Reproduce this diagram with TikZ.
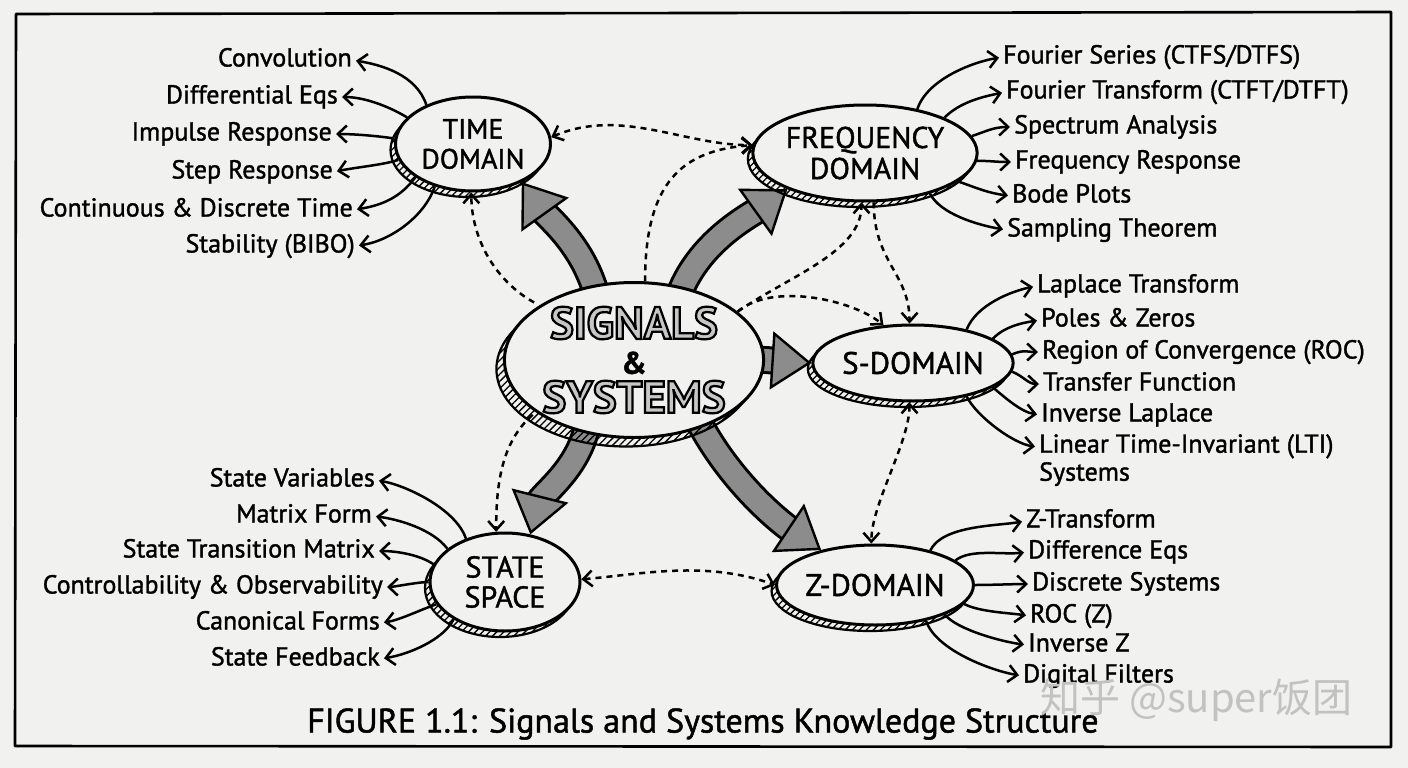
\documentclass[tikz,border=0pt]{standalone}
\usepackage{fontspec}
\setmainfont{PT Sans}[FakeBold=1.4]
\newfontfamily\cjk{Noto Sans CJK SC}
\newfontfamily\sigfont[FakeBold=5]{PT Sans Bold}
\usetikzlibrary{shapes.geometric,arrows.meta,patterns.meta}
\definecolor{paper}{RGB}{241,241,240}
\definecolor{hatch}{RGB}{140,140,140}
\pgfdeclarelayer{bg}
\pgfsetlayers{bg,main}
\newcommand\olt[1]{{\sigfont\color{black!22}\special{pdf:literal direct 0 G}#1}}
\tikzset{
  shadowed/.style={preaction={draw=black, line width=2.2pt, pattern={Lines[angle=45,distance=5pt,line width=1.3pt]}, transform canvas={shift={(#1)}}}},
  bubble/.style={ellipse, draw=black, line width=3pt, fill=paper, inner sep=0pt, align=center},
  item/.style={font=\fontsize{26}{29}\selectfont, inner sep=0pt, text height=18pt, text depth=5pt},
  leaf/.style={line width=2.5pt, -{Straight Barb[length=9pt,width=17pt]}, shorten >=4pt},
  dlink/.style={line width=2.5pt, dash pattern=on 6pt off 5pt, -{Straight Barb[length=9pt,width=16pt]}},
  dlinkb/.style={line width=2.5pt, dash pattern=on 6pt off 5pt, {Straight Barb[length=9pt,width=16pt]}-{Straight Barb[length=9pt,width=16pt]}},
  bigarr/.style={line width=2.4pt, draw=hatch, -{Triangle[length=40pt,width=58pt,fill=hatch,color=black]},
     preaction={draw=black, line width=28pt, shorten >=32pt, shorten <=-14pt, -},
     preaction={draw=hatch, line width=22pt, shorten >=32pt, shorten <=-14pt, -}},
}
\begin{document}
\begin{tikzpicture}[x=1pt,y=-1pt]
\useasboundingbox (0,0) rectangle (1408,768);
\begin{pgfonlayer}{bg}
\fill[paper] (0,0) rectangle (1408,768);
\end{pgfonlayer}
\draw[line width=2.6pt, line join=round] (16,14) -- (1391,12) -- (1391,747) -- (15,746) -- cycle;

% main bubbles
\node[bubble, shadowed={-5pt,-6pt}, minimum width=155pt, minimum height=94pt, font=\fontsize{28}{30}\selectfont] (td) at (473,144) {TIME\\DOMAIN};
\node[bubble, shadowed={-5pt,-6pt}, minimum width=198pt, minimum height=96pt, font=\fontsize{30}{31}\selectfont] (fd) at (865,153) {FREQUENCY\\DOMAIN};
\node[bubble, shadowed={-8pt,-9pt}, minimum width=252pt, minimum height=155pt, font=\fontsize{45}{35}\bfseries\selectfont] (sig) at (634,360) {\olt{SIGNALS}\\{\fontsize{31}{35}\selectfont\&}\\[4pt]\olt{SYSTEMS}};
\node[bubble, shadowed={-5pt,-6pt}, minimum width=175pt, minimum height=76pt, font=\fontsize{31}{33}\selectfont] (sd) at (913,363) {S-DOMAIN};
\node[bubble, shadowed={-5pt,-6pt}, minimum width=150pt, minimum height=98pt, font=\fontsize{30}{30}\selectfont] (ss) at (505,582) {STATE\\SPACE};
\node[bubble, shadowed={-5pt,-6pt}, minimum width=186pt, minimum height=80pt, font=\fontsize{31}{33}\selectfont] (zd) at (875,585) {Z-DOMAIN};

% big arrows
\begin{pgfonlayer}{bg}
\draw[bigarr] (sig.118) .. controls +(-10,-40) and +(25,35) .. (td.-38);
\draw[bigarr] (sig.57) .. controls +(15,-45) and +(-35,25) .. (fd.205);
\draw[bigarr] (sig.0) -- (sd.180);
\draw[bigarr] (sig.237) .. controls +(-5,35) and +(10,-40) .. (ss.62);
\draw[bigarr] (sig.-45) .. controls +(25,50) and +(-45,-30) .. (zd.147);
\end{pgfonlayer}

% dashed links
\draw[dlinkb] (td.5) .. controls +(70,-30) and +(-70,0) .. (fd.176);
\draw[dlink] (sig.82) .. controls +(0,-100) and +(-70,5) .. (fd.176);
\draw[dlink, shorten <=6pt] (sig.150) .. controls +(-45,-25) and +(0,45) .. (td.-92);
\draw[dlink] (sig.25) .. controls +(35,-30) and +(-30,-25) .. (sd.128);
\draw[dlink] (sig.25) .. controls +(50,-35) and +(0,50) .. (fd.-94);
\draw[dlink] (fd.-80) .. controls +(0,60) and +(0,-50) .. (sd.95);
\draw[dlinkb] (sd.-95) .. controls +(0,40) and +(0,-40) .. (zd.95);
\draw[dlink, shorten <=4pt] (sig.208) .. controls +(-35,30) and +(0,-45) .. (ss.100);
\draw[dlinkb] (ss.2) .. controls +(60,-5) and +(-70,-25) .. (zd.180);

% time domain items
\node[item, anchor=east] (t1) at (352,60) {Convolution};
\node[item, anchor=east] (t2) at (338,97) {Differential Eqs};
\node[item, anchor=east] (t3) at (332,134) {Impulse Response};
\node[item, anchor=east] (t4) at (333,172) {Step Response};
\node[item, anchor=east] (t5) at (353,210) {Continuous \& Discrete Time};
\node[item, anchor=east] (t6) at (355,246) {Stability (BIBO)};
\draw[leaf] (td.140) .. controls +(-10,-30) and +(30,5) .. (t1.east);
\draw[leaf] (td.158) .. controls +(-20,-12) and +(25,0) .. (t2.east);
\draw[leaf] (td.176) .. controls +(-20,-3) and +(20,0) .. (t3.east);
\draw[leaf] (td.192) .. controls +(-15,5) and +(25,-5) .. (t4.east);
\draw[leaf] (td.210) .. controls +(-15,20) and +(30,-5) .. (t5.east);
\draw[leaf] (td.228) .. controls +(-10,30) and +(35,-5) .. (t6.east);

% frequency items
\node[item, anchor=west] (f1) at (1003,57) {Fourier Series (CTFS/DTFS)};
\node[item, anchor=west] (f2) at (1006,92) {Fourier Transform (CTFT/DTFT)};
\node[item, anchor=west] (f3) at (1014,127) {Spectrum Analysis};
\node[item, anchor=west] (f4) at (1015,162) {Frequency Response};
\node[item, anchor=west] (f5) at (1012,196) {Bode Plots};
\node[item, anchor=west] (f6) at (1007,230) {Sampling Theorem};
\draw[leaf] (fd.40) .. controls +(10,-30) and +(-30,5) .. (f1.west);
\draw[leaf] (fd.24) .. controls +(15,-15) and +(-25,5) .. (f2.west);
\draw[leaf] (fd.9) .. controls +(15,-5) and +(-20,0) .. (f3.west);
\draw[leaf] (fd.-4) .. controls +(15,0) and +(-20,0) .. (f4.west);
\draw[leaf] (fd.-17) .. controls +(15,5) and +(-25,-3) .. (f5.west);
\draw[leaf] (fd.-32) .. controls +(10,20) and +(-30,-5) .. (f6.west);

% s-domain items
\node[item, anchor=west] (s1) at (1037,286) {Laplace Transform};
\node[item, anchor=west] (s2) at (1041,320) {Poles \& Zeros};
\node[item, anchor=west] (s3) at (1042,352) {Region of Convergence (ROC)};
\node[item, anchor=west] (s4) at (1043,384) {Transfer Function};
\node[item, anchor=west] (s5) at (1041,415) {Inverse Laplace};
\node[font=\fontsize{26}{28}\selectfont, inner sep=0pt, anchor=north west, align=left] (s6) at (1039,434) {Linear Time-Invariant (LTI)\\Systems};
\draw[leaf] (sd.32) .. controls +(10,-25) and +(-25,5) .. (s1.west);
\draw[leaf] (sd.17) .. controls +(12,-12) and +(-20,3) .. (s2.west);
\draw[leaf] (sd.5) .. controls +(12,-5) and +(-15,0) .. (s3.west);
\draw[leaf] (sd.-5) .. controls +(12,5) and +(-15,0) .. (s4.west);
\draw[leaf] (sd.-17) .. controls +(12,10) and +(-20,-3) .. (s5.west);
\draw[leaf] (sd.-32) .. controls +(10,20) and +(-25,-3) .. ([yshift=-13pt]s6.north west);

% state space items
\node[item, anchor=east] (q1) at (375,480) {State Variables};
\node[item, anchor=east] (q2) at (372,516) {Matrix Form};
\node[item, anchor=east] (q3) at (375,551) {State Transition Matrix};
\node[item, anchor=east] (q4) at (383,587) {Controllability \& Observability};
\node[item, anchor=east] (q5) at (380,623) {Canonical Forms};
\node[item, anchor=east] (q6) at (380,659) {State Feedback};
\draw[leaf] (ss.132) .. controls +(-10,-30) and +(30,5) .. (q1.east);
\draw[leaf] (ss.150) .. controls +(-15,-20) and +(25,3) .. (q2.east);
\draw[leaf] (ss.166) .. controls +(-15,-10) and +(20,0) .. (q3.east);
\draw[leaf] (ss.180) .. controls +(-10,0) and +(10,0) .. (q4.east);
\draw[leaf] (ss.198) .. controls +(-15,5) and +(20,-3) .. (q5.east);
\draw[leaf] (ss.216) .. controls +(-10,20) and +(30,-5) .. (q6.east);

% z-domain items
\node[item, anchor=west] (z1) at (1026,521) {Z-Transform};
\node[item, anchor=west] (z2) at (1028,552) {Difference Eqs};
\node[item, anchor=west] (z3) at (1032,584) {Discrete Systems};
\node[item, anchor=west] (z4) at (1030,616) {ROC (Z)};
\node[item, anchor=west] (z5) at (1028,645) {Inverse Z};
\node[item, anchor=west] (z6) at (1023,676) {Digital Filters};
\draw[leaf] (zd.32) .. controls +(12,-25) and +(-30,5) .. (z1.west);
\draw[leaf] (zd.17) .. controls +(15,-12) and +(-25,3) .. (z2.west);
\draw[leaf] (zd.0) .. controls +(15,0) and +(-15,0) .. (z3.west);
\draw[leaf] (zd.-12) .. controls +(15,8) and +(-20,-3) .. (z4.west);
\draw[leaf] (zd.-23) .. controls +(12,15) and +(-25,-3) .. (z5.west);
\draw[leaf] (zd.-35) .. controls +(10,30) and +(-30,-5) .. (z6.west);

% caption and watermark
\node[font=\fontsize{34}{38}\selectfont, anchor=west, inner sep=0pt] (cap) at (307,724) {FIGURE 1.1: Signals and Systems Knowledge Structure};
\node[font=\cjk\fontsize{40}{44}\selectfont, text=black!24, anchor=west, inner sep=0pt] (wm) at (1040,700) {知乎 @super饭团};
\end{tikzpicture}
\end{document}
